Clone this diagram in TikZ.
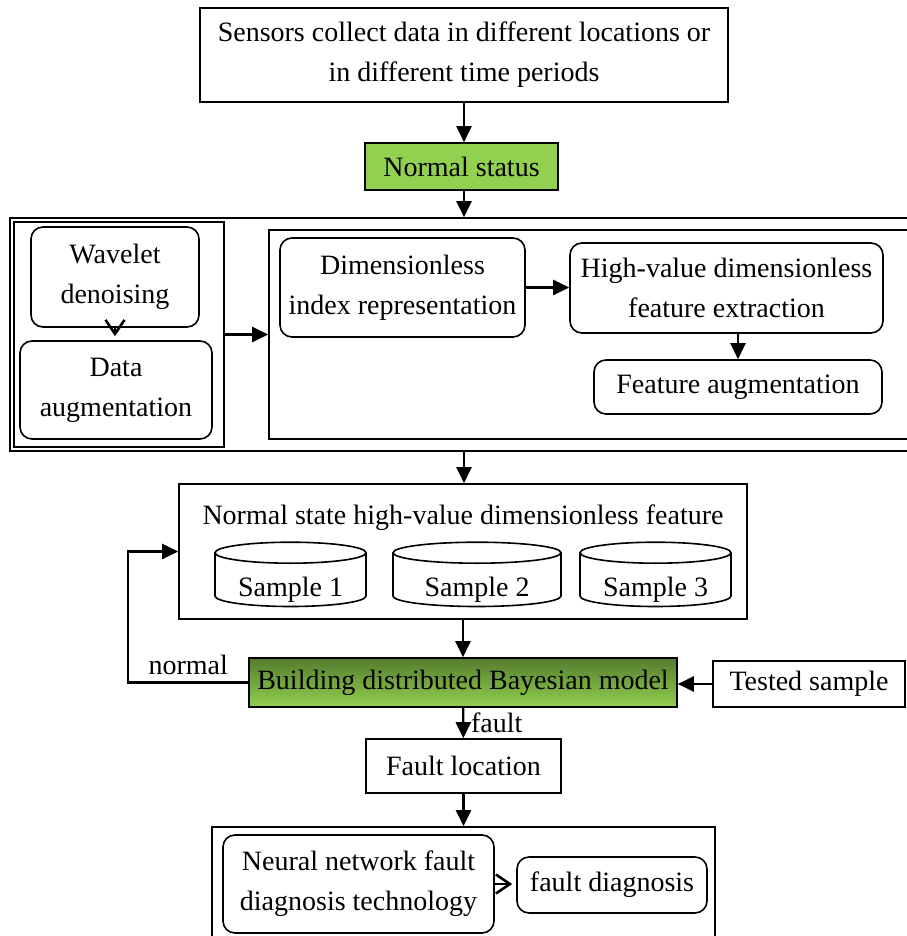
\documentclass[tikz,border=0pt]{standalone}
\usepackage{fontspec}
\setmainfont{Liberation Serif}
\usetikzlibrary{arrows.meta,shapes.geometric}
\definecolor{lightgreen}{RGB}{146,208,80}
\definecolor{darkgreen}{RGB}{84,124,46}

\tikzset{
  box/.style={draw, line width=0.8pt, inner sep=0pt, align=center},
  rbox/.style={box, rounded corners=6pt},
  arr/.style={line width=1.1pt, -{Triangle[length=8pt,width=7.5pt]}},
  varr/.style={line width=1.1pt, -{Straight Barb[length=7pt,width=9.5pt,line width=1.3pt]}},
  sample/.style={draw, line width=0.8pt, cylinder, shape border rotate=90, aspect=0.2,
    minimum height=28pt, inner sep=0pt, text height=16pt, text depth=0pt}
}

\begin{document}
\begin{tikzpicture}[x=0.5pt,y=-0.5pt,font=\fontsize{14}{20}\selectfont]
\useasboundingbox (0,0) rectangle (906,936);

% data collection
\node[box, minimum width=264pt, minimum height=47pt] (sensors) at (464,55)
  {Sensors collect data in different locations or\\in different time periods};
\node[box, fill=lightgreen, minimum width=96.5pt, minimum height=23.5pt] (normal) at (461.5,166.5) {Normal status};

% preprocessing and feature extraction
\node[box, minimum width=451pt, minimum height=116.5pt] (prebox) at (461,334.5) {};
\node[box, minimum width=105pt, minimum height=112.5pt] (leftbox) at (119,334.5) {};
\node[box, minimum width=321.5pt, minimum height=104.5pt] (rightbox) at (590.5,334.5) {};
\node[rbox, minimum width=84pt, minimum height=50pt] (wavelet) at (115,277) {Wavelet\\denoising};
\node[rbox, minimum width=96pt, minimum height=49pt] (dataaug) at (116,390) {Data\\augmentation};
\node[rbox, minimum width=122.5pt, minimum height=49.5pt] (dimless) at (402.5,287.5) {Dimensionless\\index representation};
\node[rbox, minimum width=156.5pt, minimum height=45pt] (highval) at (726.5,288) {High-value dimensionless\\feature extraction};
\node[rbox, minimum width=144pt, minimum height=27pt] (feataug) at (738,387) {Feature augmentation};

% feature samples
\node[box, minimum width=284pt, minimum height=67.5pt] (featbox) at (463,551.5) {};
\node (feattitle) at (463,518) {Normal state high-value dimensionless feature};
\foreach \x/\w/\i in {290.5/75.5/1, 477/84/2, 655.5/75.5/3}
{ \node[sample, minimum width=\w pt] (s\i) at (\x,580) {Sample \i};
}

% model and diagnosis
\node[box, top color=darkgreen, bottom color=lightgreen, minimum width=214pt, minimum height=24.5pt] (bayes) at (463,682.5)
  {Building distributed Bayesian model};
\node[box, minimum width=96pt, minimum height=23pt] (tested) at (809,684) {Tested sample};
\node[box, minimum width=97.5pt, minimum height=27pt] (faultloc) at (463.5,766) {Fault location};
\node[box, minimum width=251.5pt, minimum height=59pt] (diagbox) at (463.5,886) {};
\node[rbox, minimum width=135.5pt, minimum height=49pt] (neural) at (358.5,884) {Neural network fault\\diagnosis technology};
\node[rbox, minimum width=95pt, minimum height=28pt] (faultdiag) at (612,885) {fault diagnosis};

% arrows
\draw[arr] (sensors) -- (sensors.south |- normal.north);
\draw[arr] (normal.south -| sensors.south) -- (sensors.south |- prebox.north);
\draw[varr, shorten >=2pt] (wavelet.south) -- (wavelet.south |- dataaug.north);
\draw[arr] (leftbox.east) -- (rightbox.west |- leftbox.east);
\draw[arr] (dimless.east) -- (highval.west |- dimless.east);
\draw[arr] (feataug.north |- highval.south) -- (feataug.north);
\draw[arr] (prebox.south -| sensors.south) -- (sensors.south |- featbox.north);
\draw[arr] (featbox) -- (bayes);
\draw[arr] (tested.west) -- (bayes.east |- tested.west);
\draw[arr] (bayes.west) -- ++(-120,0) node[midway, above] {normal} |- (featbox.west);
\draw[arr] (bayes) -- (faultloc) node[midway, right] {fault};
\draw[arr] (faultloc) -- (diagbox);
\draw[varr, shorten >=2pt] (neural.east) -- (faultdiag.west |- neural.east);
\end{tikzpicture}
\end{document}
